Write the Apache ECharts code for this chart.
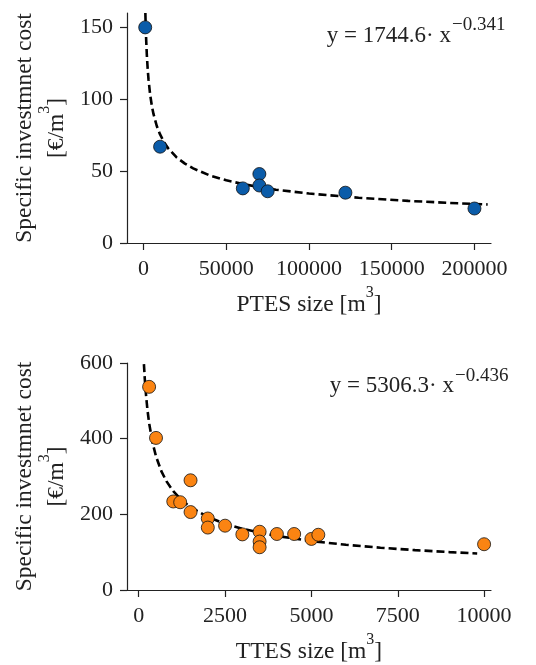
<!DOCTYPE html>
<html>
<head>
<meta charset="utf-8">
<script src="https://cdn.jsdelivr.net/npm/echarts@6/dist/echarts.min.js"></script>
<style>
html,body{margin:0;padding:0;background:#fff;}
#chart{width:536px;height:665px;}
</style>
</head>
<body>
<div id="chart"></div>
<script>
// ---- PTES (top panel) ----
var ptesSize = [1000, 10000, 60000, 70000, 70000, 75000, 122000, 200000];
var ptesCost = [150, 67, 38, 48, 40, 36, 35, 24];
// fit curve y = 1744.6 * x^-0.341
var ptesFitX = [1100, 1300, 1600, 2000, 2500, 3000, 4000, 5000, 6000, 8000, 10000, 12500, 15000, 20000, 25000, 30000, 40000, 50000, 60000, 70000, 80000, 100000, 130000, 160000, 190000, 208000];
var ptesFitY = [160, 151.3, 141.0, 130.6, 121.1, 113.8, 103.1, 95.6, 89.8, 81.4, 75.5, 69.9, 65.7, 59.5, 55.2, 51.9, 47.0, 43.6, 41.0, 38.9, 37.1, 34.4, 31.5, 29.3, 27.6, 26.8];
var ptesXTicks = [0, 50000, 100000, 150000, 200000];
var ptesYTicks = [0, 50, 100, 150];

// ---- TTES (bottom panel) ----
var ttesSize = [300, 500, 1000, 1200, 1500, 1500, 2000, 2000, 2500, 3000, 3500, 3500, 3500, 4000, 4500, 5000, 5200, 10000];
var ttesCost = [537, 402, 234, 232, 290, 206, 189, 165, 170, 147, 154, 128, 113, 148, 148, 135, 146, 121];
// fit curve y = 5306.3 * x^-0.436
var ttesFitX = [150, 175, 200, 250, 300, 400, 500, 650, 800, 1000, 1250, 1500, 2000, 2500, 3000, 4000, 5000, 6000, 7000, 8000, 9000, 9800];
var ttesFitY = [597, 558.2, 526.7, 477.8, 441.4, 389.3, 353.2, 315.0, 287.8, 261.1, 236.9, 218.8, 193.0, 175.1, 161.7, 142.7, 129.4, 119.5, 111.8, 105.4, 100.2, 96.5];
var ttesXTicks = [0, 2500, 5000, 7500, 10000];
var ttesYTicks = [0, 200, 400, 600];

var eqTop = {main: 'y = 1744.6· x', sup: '−0.341'};
var eqBottom = {main: 'y = 5306.3· x', sup: '−0.436'};

var FONT = '"Liberation Serif", "DejaVu Serif", serif';
var FS = 22;
var NFS = 23.5;

function zip(a, b) { return a.map(function (v, i) { return [v, b[i]]; }); }

var richName = {
  t: {fontFamily: FONT, fontSize: NFS, color: '#222', lineHeight: 32, verticalAlign: 'bottom'},
  s: {fontFamily: FONT, fontSize: 16, color: '#222', lineHeight: 16, padding: [0, 0, 11, 0], verticalAlign: 'top'}
};

function xAxisCfg(idx, min, max, ticks, name) {
  return {
    type: 'value', gridIndex: idx, min: min, max: max,
    splitLine: {show: false},
    axisLine: {show: true, onZero: false, lineStyle: {color: '#222', width: 1.2}},
    axisTick: {show: true, length: 7, customValues: ticks, lineStyle: {color: '#222', width: 1.2}},
    axisLabel: {customValues: ticks, margin: 15, fontFamily: FONT, fontSize: FS, color: '#222',
      formatter: function (v) { return String(v); }},
    name: name, nameLocation: 'middle', nameGap: 42,
    nameTextStyle: {rich: richName}
  };
}
function yAxisCfg(idx, min, max, ticks) {
  return {
    type: 'value', gridIndex: idx, min: min, max: max,
    splitLine: {show: false},
    axisLine: {show: true, onZero: false, lineStyle: {color: '#222', width: 1.2}},
    axisTick: {show: true, length: 7, customValues: ticks, lineStyle: {color: '#222', width: 1.2}},
    axisLabel: {customValues: ticks, margin: 14, fontFamily: FONT, fontSize: FS, color: '#222',
      formatter: function (v) { return String(v); }},
    name: '{t|Specific investmnet cost}\n{t|[€/m}{s|3}{t|]}',
    nameLocation: 'middle', nameGap: 56, nameRotate: 90,
    nameTextStyle: {rich: richName, align: 'center'}
  };
}

var chart = echarts.init(document.getElementById('chart'), null, {renderer: 'canvas'});
chart.setOption({
  backgroundColor: '#fff',
  animation: false,
  grid: [
    {left: 127, top: 13, width: 364, height: 230},
    {left: 127, top: 363, width: 364, height: 231}
  ],
  xAxis: [
    xAxisCfg(0, -10000, 210000, ptesXTicks, '{t|PTES size [m}{s|3}{t|]}'),
    xAxisCfg(1, -340, 10200, ttesXTicks, '{t|TTES size [m}{s|3}{t|]}')
  ],
  yAxis: [
    yAxisCfg(0, 0, 160, ptesYTicks),
    yAxisCfg(1, 0, 600, ttesYTicks)
  ],
  series: [
    {type: 'line', xAxisIndex: 0, yAxisIndex: 0, data: zip(ptesFitX, ptesFitY), showSymbol: false, symbol: 'none',
     lineStyle: {color: '#000', width: 2.6, type: [8, 4]}, z: 2},
    {type: 'scatter', xAxisIndex: 0, yAxisIndex: 0, data: zip(ptesSize, ptesCost), symbolSize: 13,
     itemStyle: {color: '#0b5ca9', borderColor: '#111', borderWidth: 0.8, opacity: 1}, z: 3},
    {type: 'line', xAxisIndex: 1, yAxisIndex: 1, data: zip(ttesFitX, ttesFitY), showSymbol: false, symbol: 'none',
     lineStyle: {color: '#000', width: 2.6, type: [8, 4]}, z: 2},
    {type: 'scatter', xAxisIndex: 1, yAxisIndex: 1, data: zip(ttesSize, ttesCost), symbolSize: 13,
     itemStyle: {color: '#fb8412', borderColor: '#111', borderWidth: 0.8, opacity: 1}, z: 3}
  ],
  graphic: [
    {type: 'text', x: 451, y: 36, style: {text: eqTop.main, font: '23px ' + FONT, fill: '#222', align: 'right', verticalAlign: 'middle'}},
    {type: 'text', x: 452, y: 25, style: {text: eqTop.sup, font: '19px ' + FONT, fill: '#222', align: 'left', verticalAlign: 'middle'}},
    {type: 'text', x: 454, y: 386, style: {text: eqBottom.main, font: '23px ' + FONT, fill: '#222', align: 'right', verticalAlign: 'middle'}},
    {type: 'text', x: 455, y: 376, style: {text: eqBottom.sup, font: '19px ' + FONT, fill: '#222', align: 'left', verticalAlign: 'middle'}}
  ]
});
</script>
</body>
</html>
